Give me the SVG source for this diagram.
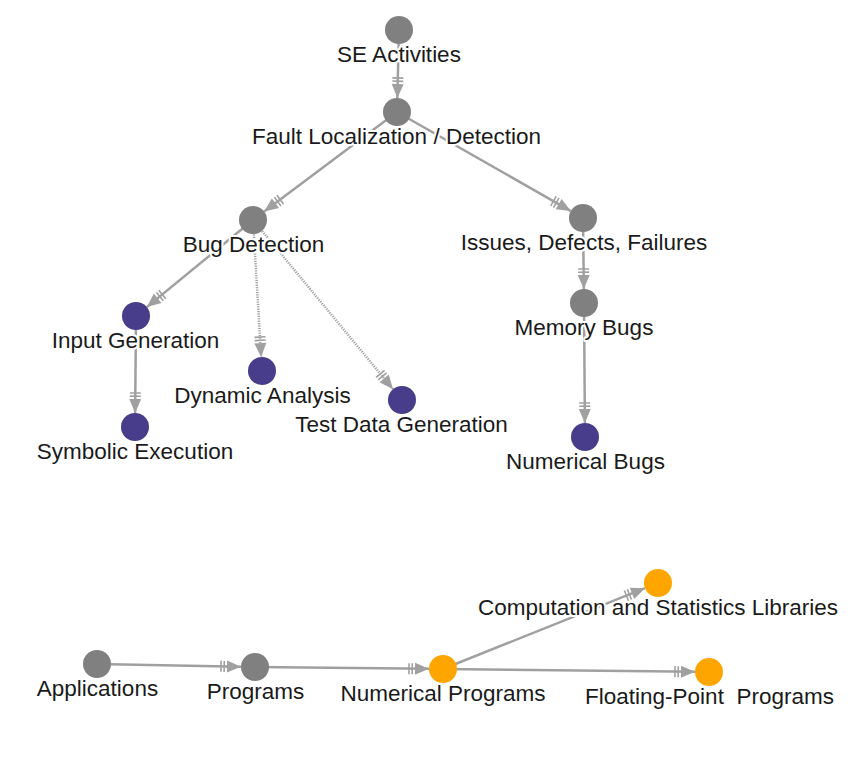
<svg xmlns="http://www.w3.org/2000/svg" width="852" height="759" viewBox="0 0 852 759">
<style>
  .edge { stroke: #a0a0a0; stroke-width: 2.5; fill: none; }
  .dot { stroke-dasharray: 1.2 1.2; }
  .gray { fill: #808080; }
  .purple { fill: #483d8b; }
  .orange { fill: #ffa500; }
  text { font-family: "Liberation Sans", Arial, sans-serif; font-size: 22.5px; fill: #1a1a1a; text-anchor: middle; stroke: #ffffff; stroke-width: 4; stroke-linejoin: round; paint-order: stroke; }
</style>
<defs>
  <marker id="arr" markerUnits="userSpaceOnUse" viewBox="0 0 22 14" refX="22" refY="7" markerWidth="22" markerHeight="14" orient="auto">
    <polygon points="8,1 22,7 8,13" fill="#a0a0a0"/>
    <line x1="2" y1="1.5" x2="2" y2="12.5" stroke="#a0a0a0" stroke-width="1.6"/>
    <line x1="5.2" y1="1.5" x2="5.2" y2="12.5" stroke="#a0a0a0" stroke-width="1.6"/>
  </marker>
</defs>
<rect width="852" height="759" fill="#ffffff"/>
<g id="connectors">
  <line class="edge" x1="399" y1="30" x2="397.34" y2="98" marker-end="url(#arr)"/>
  <line class="edge" x1="397" y1="112" x2="264.2" y2="211.6" marker-end="url(#arr)"/>
  <line class="edge" x1="397" y1="112" x2="570.84" y2="211.07" marker-end="url(#arr)"/>
  <line class="edge" x1="253" y1="220" x2="146.82" y2="307.12" marker-end="url(#arr)"/>
  <line class="edge dot" x1="253" y1="220" x2="261.17" y2="357.03" marker-end="url(#arr)"/>
  <line class="edge dot" x1="253" y1="220" x2="393.07" y2="389.22" marker-end="url(#arr)"/>
  <line class="edge" x1="136" y1="316" x2="135.13" y2="413" marker-end="url(#arr)"/>
  <line class="edge" x1="583" y1="218" x2="583.84" y2="289" marker-end="url(#arr)"/>
  <line class="edge" x1="584" y1="303" x2="584.9" y2="423" marker-end="url(#arr)"/>
  <line class="edge" x1="97" y1="664" x2="241" y2="666.73" marker-end="url(#arr)"/>
  <line class="edge" x1="255" y1="667" x2="429" y2="668.85" marker-end="url(#arr)"/>
  <line class="edge" x1="443" y1="669" x2="645" y2="588.2" marker-end="url(#arr)"/>
  <line class="edge" x1="443" y1="669" x2="695" y2="671.84" marker-end="url(#arr)"/>
</g>
<g id="se-activities"><circle class="gray" cx="399" cy="30" r="14"/><text x="399" y="62">SE Activities</text></g>
<g id="fault-localization"><circle class="gray" cx="397" cy="112" r="14"/><text x="396.5" y="144">Fault Localization / Detection</text></g>
<g id="bug-detection"><circle class="gray" cx="253" cy="220" r="14"/><text x="253.5" y="252">Bug Detection</text></g>
<g id="issues"><circle class="gray" cx="583" cy="218" r="14"/><text x="584" y="250">Issues, Defects, Failures</text></g>
<g id="memory-bugs"><circle class="gray" cx="584" cy="303" r="14"/><text x="584" y="335">Memory Bugs</text></g>
<g id="numerical-bugs"><circle class="purple" cx="585" cy="437" r="14"/><text x="585.5" y="469">Numerical Bugs</text></g>
<g id="input-generation"><circle class="purple" cx="136" cy="316" r="14"/><text x="135.5" y="347.5">Input Generation</text></g>
<g id="dynamic-analysis"><circle class="purple" cx="262" cy="371" r="14"/><text x="262.5" y="403">Dynamic Analysis</text></g>
<g id="test-data-generation"><circle class="purple" cx="402" cy="400" r="14"/><text x="401.5" y="432">Test Data Generation</text></g>
<g id="symbolic-execution"><circle class="purple" cx="135" cy="427" r="14"/><text x="135" y="459">Symbolic Execution</text></g>
<g id="applications"><circle class="gray" cx="97" cy="664" r="14"/><text x="97.5" y="696">Applications</text></g>
<g id="programs"><circle class="gray" cx="255" cy="667" r="14"/><text x="255.5" y="699">Programs</text></g>
<g id="numerical-programs"><circle class="orange" cx="443" cy="669" r="14"/><text x="443" y="701">Numerical Programs</text></g>
<g id="computation-libraries"><circle class="orange" cx="658" cy="583" r="14"/><text x="658" y="615">Computation and Statistics Libraries</text></g>
<g id="floating-point-programs"><circle class="orange" cx="709" cy="672" r="14"/><text x="709.5" y="704" xml:space="preserve">Floating-Point  Programs</text></g>
</svg>
